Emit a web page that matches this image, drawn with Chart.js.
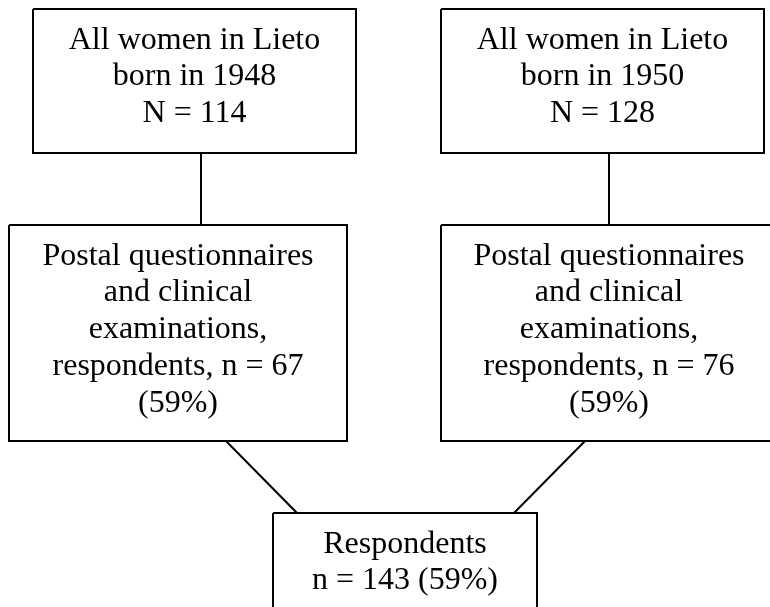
<!DOCTYPE html>
<html>
<head>
<meta charset="utf-8">
<script src="https://cdn.jsdelivr.net/npm/chart.js@4.4.1/dist/chart.umd.min.js"></script>
<style>
  html, body { margin: 0; padding: 0; background: #fff; }
  #flow { display: block; }
</style>
</head>
<body>
<canvas id="flow" width="770" height="607"></canvas>
<script>
// ===== DATA =====
const cohortYears = [1948, 1950];
const cohortTotals = [114, 128];
const respondentCounts = [67, 76];
const respondentPct = [59, 59];
const totalRespondents = 143;
const totalPct = 59;

// ===== LAYOUT (page frame, 770 x 607, y downwards) =====
const FRAME = { w: 770, h: 607 };
const BOXES = {
  cohort0: { x0: 33, x1: 356, y0: 9, y1: 153 },
  cohort1: { x0: 441, x1: 764, y0: 9, y1: 153 },
  resp0: { x0: 9, x1: 347, y0: 225, y1: 441 },
  resp1: { x0: 441, x1: 777, y0: 225, y1: 441 },
  total: { x0: 273, x1: 537, y0: 513, y1: 625 },
};
const LINKS = [
  [[201, 153], [201, 225]],
  [[609, 153], [609, 225]],
  [[226, 441], [297, 513]],
  [[585, 441], [514, 513]],
];
const TEXT = { font: '32px "Liberation Serif", "Times New Roman", serif', first: 39.5, step: 36.8 };

const COLORS = { line: '#000000', text: '#000000', bg: '#ffffff' };

// ===== LABELS =====
const labels = {
  cohort0: ['All women in Lieto', `born in ${cohortYears[0]}`, `N = ${cohortTotals[0]}`],
  cohort1: ['All women in Lieto', `born in ${cohortYears[1]}`, `N = ${cohortTotals[1]}`],
  resp0: ['Postal questionnaires', 'and clinical', 'examinations,', `respondents, n = ${respondentCounts[0]}`, `(${respondentPct[0]}%)`],
  resp1: ['Postal questionnaires', 'and clinical', 'examinations,', `respondents, n = ${respondentCounts[1]}`, `(${respondentPct[1]}%)`],
  total: ['Respondents', `n = ${totalRespondents} (${totalPct}%)`],
};

function rectPoints(b) {
  return [
    { x: b.x0, y: b.y0 }, { x: b.x1, y: b.y0 }, { x: b.x1, y: b.y1 },
    { x: b.x0, y: b.y1 }, { x: b.x0, y: b.y0 },
  ];
}

const lineStyle = {
  showLine: true,
  borderColor: COLORS.line,
  borderWidth: 2,
  pointRadius: 0,
  fill: false,
  tension: 0,
};

const datasets = [
  ...Object.keys(BOXES).map((k) => ({ ...lineStyle, label: k, data: rectPoints(BOXES[k]) })),
  ...LINKS.map((l, i) => ({ ...lineStyle, label: 'link' + i, data: l.map(([x, y]) => ({ x, y })) })),
];

// ===== BOX TEXT PLUGIN =====
const boxText = {
  id: 'boxText',
  beforeDraw(chart) {
    const { ctx } = chart;
    ctx.save();
    ctx.fillStyle = COLORS.bg;
    ctx.fillRect(0, 0, chart.width, chart.height);
    ctx.restore();
  },
  afterDatasetsDraw(chart) {
    const { ctx, scales: { x, y } } = chart;
    ctx.save();
    ctx.font = TEXT.font;
    ctx.fillStyle = COLORS.text;
    ctx.textAlign = 'center';
    ctx.textBaseline = 'alphabetic';
    Object.keys(BOXES).forEach((k) => {
      const b = BOXES[k];
      const cx = x.getPixelForValue((b.x0 + b.x1) / 2);
      labels[k].forEach((line, i) => {
        ctx.fillText(line, cx, y.getPixelForValue(b.y0 + TEXT.first + i * TEXT.step));
      });
    });
    ctx.restore();
  },
};

new Chart(document.getElementById('flow'), {
  type: 'scatter',
  data: { datasets },
  options: {
    responsive: false,
    animation: false,
    layout: { padding: 0 },
    scales: {
      x: { type: 'linear', min: 0, max: FRAME.w, display: false },
      y: { type: 'linear', min: 0, max: FRAME.h, reverse: true, display: false },
    },
    plugins: { legend: { display: false }, tooltip: { enabled: false } },
  },
  plugins: [boxText],
});
</script>
</body>
</html>
